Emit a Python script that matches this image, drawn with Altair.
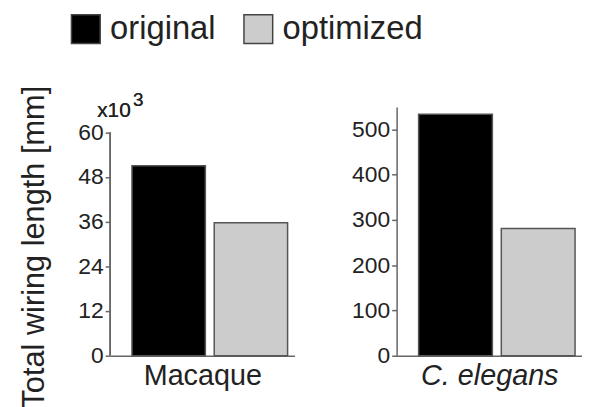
import altair as alt
import pandas as pd

conditions = ["original", "optimized"]
macaque_values = [51.0, 35.7]      # x10^3 mm
celegans_values = [534, 281]       # mm
macaque_ticks = [0, 12, 24, 36, 48, 60]
celegans_ticks = [0, 100, 200, 300, 400, 500]

FONT = "Liberation Sans"
AXIS_GRAY = "#666666"
TEXT = "#222222"

color_scale = alt.Scale(domain=conditions, range=["#000000", "#cccccc"])

mac_df = pd.DataFrame({"condition": conditions, "value": macaque_values})
cel_df = pd.DataFrame({"condition": conditions, "value": celegans_values})

xscale = alt.Scale(domain=conditions, paddingInner=0.108, paddingOuter=0.175, align=0.76)

legend = alt.Legend(
    title=None, orient="none", legendX=-41, legendY=-95, direction="horizontal",
    symbolType="square", symbolSize=841, symbolStrokeColor="#444444",
    symbolStrokeWidth=1.5, labelFontSize=33, labelFont=FONT, labelColor=TEXT,
    labelOffset=8, columnPadding=25,
)

def x_enc(title, italic=False):
    return alt.X(
        "condition:N", scale=xscale, sort=conditions,
        axis=alt.Axis(
            title=title, labels=False, ticks=False, domainColor=AXIS_GRAY,
            domainWidth=1.5, titleFontSize=29, titleFont=FONT, titleColor=TEXT,
            titleFontWeight="normal", titlePadding=6,
            titleFontStyle="italic" if italic else "normal",
        ),
    )

mac_bars = alt.Chart(mac_df).mark_bar(stroke="#555555", strokeWidth=1.5).encode(
    x=x_enc("Macaque"),
    y=alt.Y(
        "value:Q", scale=alt.Scale(domain=[0, 66.8], nice=False),
        axis=alt.Axis(
            values=macaque_ticks, domain=False, grid=False, tickSize=5,
            tickColor=AXIS_GRAY, tickWidth=1.5, labelFontSize=23, labelFont=FONT,
            labelColor=TEXT, labelPadding=2, title="Total wiring length [mm]",
            titleFontSize=31, titleFont=FONT, titleColor=TEXT,
            titleFontWeight="normal", titlePadding=28, titleY=141,
        ),
    ),
    color=alt.Color("condition:N", scale=color_scale, sort=conditions, legend=legend),
)

mac_axis_line = alt.Chart(mac_df).mark_rule(color=AXIS_GRAY, strokeWidth=1.5).encode(
    x=alt.value(0), y=alt.datum(0), y2=alt.datum(60)
)

exp_base = alt.Chart(mac_df).mark_text(
    font=FONT, fontSize=21, color=TEXT, align="left", baseline="alphabetic"
).encode(x=alt.value(-13), y=alt.value(10), text=alt.value("x10"))
exp_sup = alt.Chart(mac_df).mark_text(
    font=FONT, fontSize=19, color=TEXT, align="left", baseline="alphabetic"
).encode(x=alt.value(23), y=alt.value(-1), text=alt.value("3"))

left = alt.layer(mac_bars, mac_axis_line, exp_base, exp_sup).properties(width=186, height=251)

cel_bars = alt.Chart(cel_df).mark_bar(stroke="#555555", strokeWidth=1.5).encode(
    x=x_enc("C. elegans", italic=True),
    y=alt.Y(
        "value:Q", scale=alt.Scale(domain=[0, 550], nice=False),
        axis=alt.Axis(
            values=celegans_ticks, domain=True, domainColor=AXIS_GRAY, domainWidth=1.5,
            grid=False, tickSize=5, tickColor=AXIS_GRAY, tickWidth=1.5,
            labelFontSize=23, labelFont=FONT, labelColor=TEXT, labelPadding=2,
            title=None,
        ),
    ),
    color=alt.Color("condition:N", scale=color_scale, sort=conditions, legend=legend),
)

right = cel_bars.properties(width=187, height=251)

chart = alt.hconcat(left, right, spacing=57).properties(
    padding={"left": 10, "top": 3, "right": 0, "bottom": 0}
).configure_view(stroke=None)

chart.save("out.html", embed_options={"renderer": "svg", "actions": False})
